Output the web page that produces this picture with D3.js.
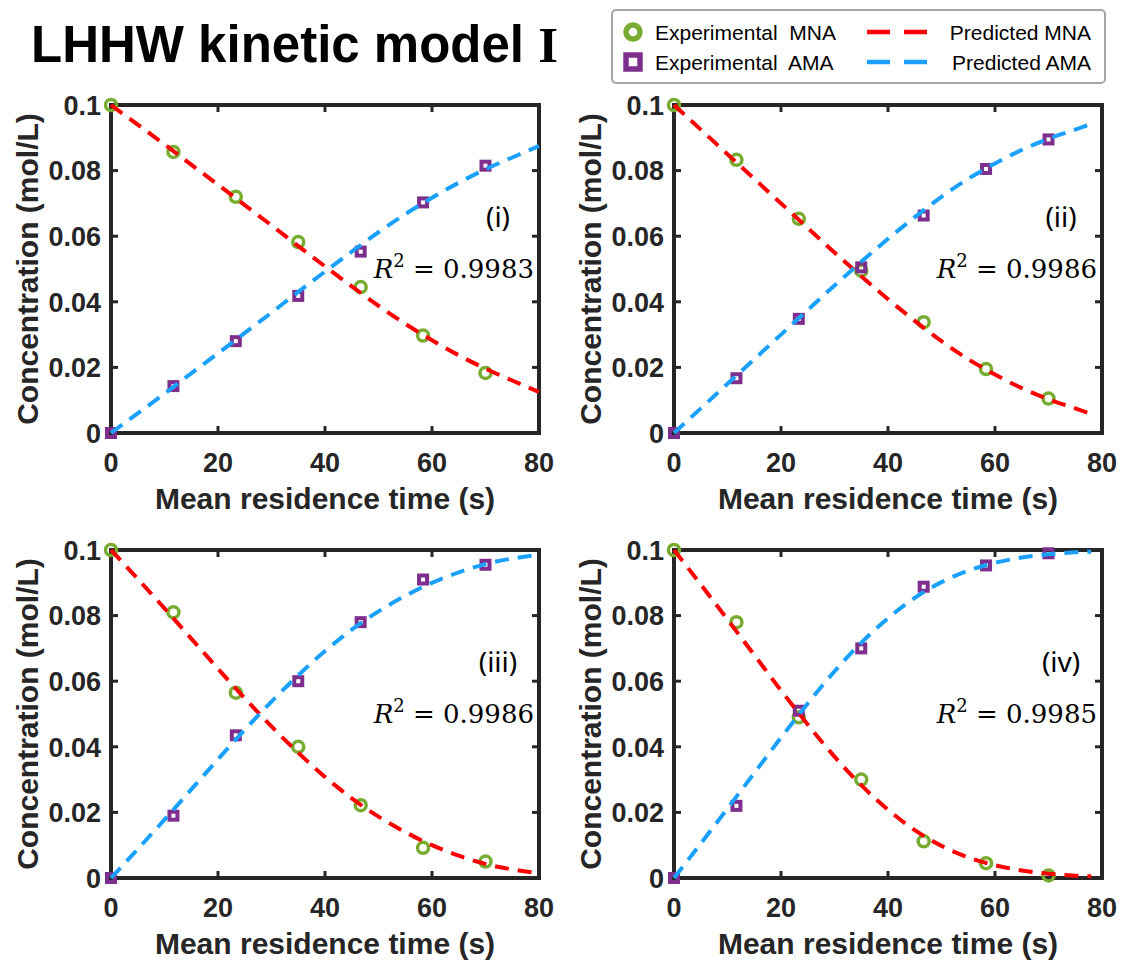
<!DOCTYPE html>
<html lang="en">
<head>
<meta charset="utf-8">
<title>LHHW kinetic model I</title>
<script src="https://d3js.org/d3.v7.min.js"></script>
<style>
    html, body { margin: 0; padding: 0; background: #fff; }
    svg { display: block; }
    .tick-label { font-family: "Liberation Sans", Arial, sans-serif; font-weight: bold; font-size: 27px; fill: #262626; }
    .axis-title { font-family: "Liberation Sans", Arial, sans-serif; font-weight: bold; font-size: 30px; fill: #262626; }
</style>
</head>
<body>
<div id="chart"></div>
<script>
// experimental sampling times (s)
var expTime = [0, 11.67, 23.33, 35, 46.67, 58.33, 70];

// experimental concentrations (mol/L), one row per panel
var mnaExp = [
    [0.1, 0.0857, 0.0720, 0.0582, 0.0445, 0.0297, 0.0183],
    [0.1, 0.0833, 0.0653, 0.0495, 0.0338, 0.0195, 0.0105],
    [0.1, 0.0810, 0.0565, 0.0400, 0.0222, 0.0092, 0.0050],
    [0.1, 0.0780, 0.0490, 0.0300, 0.0112, 0.0045, 0.0008]
];
var amaExp = [
    [0, 0.0143, 0.0280, 0.0418, 0.0553, 0.0703, 0.0815],
    [0, 0.0167, 0.0348, 0.0505, 0.0663, 0.0805, 0.0895],
    [0, 0.0190, 0.0435, 0.0600, 0.0780, 0.0910, 0.0955],
    [0, 0.0220, 0.0510, 0.0700, 0.0888, 0.0953, 0.0990]
];

// model curve times: panels i & iii run to 80 s, ii & iv stop at 78 s
var predTimeFull = [0, 5, 10, 15, 20, 25, 30, 35, 40, 45, 50, 55, 60, 65, 70, 75, 80];
var predTimeShort = [0, 5, 10, 15, 20, 25, 30, 35, 40, 45, 50, 55, 60, 65, 70, 75, 78];

var mnaPred = [
    [0.1, 0.0940, 0.0880, 0.0818, 0.0757, 0.0695, 0.0633, 0.0570, 0.0508, 0.0447, 0.0388, 0.0333, 0.0283, 0.0237, 0.0196, 0.0160, 0.0125],
    [0.1, 0.0925, 0.0850, 0.0775, 0.0700, 0.0625, 0.0550, 0.0478, 0.0408, 0.0342, 0.0280, 0.0225, 0.0178, 0.0137, 0.0103, 0.0075, 0.0058],
    [0.1, 0.0912, 0.0822, 0.0730, 0.0638, 0.0548, 0.0462, 0.0382, 0.0308, 0.0243, 0.0187, 0.0140, 0.0100, 0.0068, 0.0043, 0.0026, 0.0015],
    [0.1, 0.0895, 0.0788, 0.0680, 0.0572, 0.0468, 0.0370, 0.0283, 0.0208, 0.0146, 0.0098, 0.0063, 0.0039, 0.0023, 0.0013, 0.0007, 0.0005]
];
var amaPred = [
    [0, 0.0060, 0.0120, 0.0182, 0.0243, 0.0305, 0.0367, 0.0430, 0.0492, 0.0553, 0.0612, 0.0667, 0.0717, 0.0763, 0.0804, 0.0840, 0.0875],
    [0, 0.0075, 0.0150, 0.0225, 0.0300, 0.0375, 0.0450, 0.0522, 0.0592, 0.0658, 0.0720, 0.0775, 0.0822, 0.0863, 0.0897, 0.0925, 0.0942],
    [0, 0.0088, 0.0178, 0.0270, 0.0362, 0.0452, 0.0538, 0.0618, 0.0692, 0.0757, 0.0813, 0.0860, 0.0900, 0.0932, 0.0957, 0.0974, 0.0985],
    [0, 0.0105, 0.0212, 0.0320, 0.0428, 0.0532, 0.0630, 0.0717, 0.0792, 0.0854, 0.0902, 0.0937, 0.0961, 0.0977, 0.0987, 0.0993, 0.0995]
];

var panelNames = ["(i)", "(ii)", "(iii)", "(iv)"];
var r2Values = ["0.9983", "0.9986", "0.9986", "0.9985"];

var xTicks = [0, 20, 40, 60, 80];
var yTicks = [0, 0.02, 0.04, 0.06, 0.08, 0.1];
var yTickLabels = ["0", "0.02", "0.04", "0.06", "0.08", "0.1"];

var legendMarkers = ["Experimental  MNA", "Experimental  AMA"];
var legendLines = ["Predicted MNA", "Predicted AMA"];

// colours (MATLAB-ish)
var colGreen = "#77AC30", colPurple = "#7E2F8E", colRed = "#FF0000", colBlue = "#1AA0FF";
var frameCol = "#262626";

var width = 1121, height = 961;
var panelW = 428, panelH = 328;
var origins = [[111, 105], [674, 105], [111, 550], [674, 550]];

var svg = d3.select("#chart").append("svg")
    .attr("width", width)
    .attr("height", height);

// title
var title = svg.append("text")
    .attr("x", 31)
    .attr("y", 62)
    .style("font-family", "'Liberation Sans', Arial, sans-serif")
    .style("font-weight", "bold")
    .style("font-size", "51px")
    .attr("fill", "#000");
title.append("tspan").text("LHHW kinetic model ");
title.append("tspan")
    .style("font-family", "'Liberation Serif', 'Times New Roman', serif")
    .text("I");

var x = d3.scaleLinear().domain([0, 80]).range([0, panelW]);
var y = d3.scaleLinear().domain([0, 0.1]).range([panelH, 0]);

var line = d3.line()
    .x(function(d) { return x(d[0]); })
    .y(function(d) { return y(d[1]); })
    .curve(d3.curveMonotoneX);

origins.forEach(function(o, p) {
    var g = svg.append("g").attr("transform", "translate(" + o[0] + "," + o[1] + ")");
    var tPred = (p == 1 || p == 3) ? predTimeShort : predTimeFull;

    // inward ticks on all four sides (box on)
    var tickLen = 7;
    var ticks = g.append("g").attr("stroke", frameCol).attr("stroke-width", 3);
    xTicks.slice(1, -1).forEach(function(t) {
        ticks.append("line").attr("x1", x(t)).attr("x2", x(t)).attr("y1", panelH).attr("y2", panelH - tickLen);
        ticks.append("line").attr("x1", x(t)).attr("x2", x(t)).attr("y1", 0).attr("y2", tickLen);
    });
    yTicks.slice(1, -1).forEach(function(t) {
        ticks.append("line").attr("y1", y(t)).attr("y2", y(t)).attr("x1", 0).attr("x2", tickLen);
        ticks.append("line").attr("y1", y(t)).attr("y2", y(t)).attr("x1", panelW).attr("x2", panelW - tickLen);
    });

    // frame
    g.append("rect")
        .attr("x", 0).attr("y", 0)
        .attr("width", panelW).attr("height", panelH)
        .attr("fill", "none")
        .attr("stroke", frameCol)
        .attr("stroke-width", 4);

    // tick labels
    g.selectAll(".xt").data(xTicks).enter().append("text")
        .attr("class", "tick-label")
        .attr("x", function(d) { return x(d); })
        .attr("y", panelH + 39)
        .attr("text-anchor", "middle")
        .text(function(d) { return d; });
    g.selectAll(".yt").data(yTicks).enter().append("text")
        .attr("class", "tick-label")
        .attr("x", -10)
        .attr("y", function(d) { return y(d); })
        .attr("dy", "0.36em")
        .attr("text-anchor", "end")
        .text(function(d, i) { return yTickLabels[i]; });

    // axis titles
    g.append("text")
        .attr("class", "axis-title")
        .attr("x", panelW / 2)
        .attr("y", panelH + 76)
        .attr("text-anchor", "middle")
        .text("Mean residence time (s)");
    g.append("text")
        .attr("class", "axis-title")
        .attr("transform", "translate(" + (-73) + "," + (panelH / 2) + ") rotate(-90)")
        .attr("text-anchor", "middle")
        .text("Concentration (mol/L)");

    // experimental points
    g.selectAll(".mna").data(expTime.map(function(t, i) { return [t, mnaExp[p][i]]; }))
        .enter().append("circle")
        .attr("cx", function(d) { return x(d[0]); })
        .attr("cy", function(d) { return y(d[1]); })
        .attr("r", 5.5)
        .attr("fill", "none")
        .attr("stroke", colGreen)
        .attr("stroke-width", 3.5);
    var sq = 8;
    g.selectAll(".ama").data(expTime.map(function(t, i) { return [t, amaExp[p][i]]; }))
        .enter().append("rect")
        .attr("x", function(d) { return x(d[0]) - sq / 2; })
        .attr("y", function(d) { return y(d[1]) - sq / 2; })
        .attr("width", sq).attr("height", sq)
        .attr("fill", "none")
        .attr("stroke", colPurple)
        .attr("stroke-width", 4);

    // predicted curves
    g.append("path")
        .datum(tPred.map(function(t, i) { return [t, mnaPred[p][i]]; }))
        .attr("d", line)
        .attr("fill", "none")
        .attr("stroke", colRed)
        .attr("stroke-width", 4)
        .attr("stroke-dasharray", "14,9");
    g.append("path")
        .datum(tPred.map(function(t, i) { return [t, amaPred[p][i]]; }))
        .attr("d", line)
        .attr("fill", "none")
        .attr("stroke", colBlue)
        .attr("stroke-width", 4)
        .attr("stroke-dasharray", "14,9");

    // panel label and R^2
    g.append("text")
        .attr("x", 387).attr("y", 122)
        .attr("text-anchor", "middle")
        .style("font-family", "'Noto Sans', 'Open Sans', sans-serif")
        .style("font-size", "28px")
        .attr("fill", "#000")
        .text(panelNames[p]);
    var r2 = g.append("text")
        .attr("x", 423).attr("y", 173)
        .attr("text-anchor", "end")
        .style("font-family", "'DejaVu Serif', serif")
        .style("font-size", "26px")
        .attr("fill", "#000");
    r2.append("tspan").style("font-style", "italic").text("R");
    r2.append("tspan").attr("dy", -11).style("font-size", "18px").text("2");
    r2.append("tspan").attr("dy", 11).text(" = " + r2Values[p]);
});

// legend
var lg = svg.append("g");
lg.append("rect")
    .attr("x", 612).attr("y", 10)
    .attr("width", 493).attr("height", 73)
    .attr("rx", 4)
    .attr("fill", "#fff")
    .attr("stroke", "#a6a6a6")
    .attr("stroke-width", 2);
var rowsY = [32, 62];
lg.append("circle")
    .attr("cx", 633).attr("cy", rowsY[0]).attr("r", 7)
    .attr("fill", "#fff").attr("stroke", colGreen).attr("stroke-width", 5.5);
lg.append("rect")
    .attr("x", 626).attr("y", rowsY[1] - 7).attr("width", 14).attr("height", 14)
    .attr("fill", "#fff").attr("stroke", colPurple).attr("stroke-width", 5.5);
[colRed, colBlue].forEach(function(c, i) {
    lg.append("line")
        .attr("x1", 867).attr("x2", 927)
        .attr("y1", rowsY[i]).attr("y2", rowsY[i])
        .attr("stroke", c).attr("stroke-width", 4.5)
        .attr("stroke-dasharray", "23,14");
});
legendMarkers.forEach(function(t, i) {
    lg.append("text")
        .attr("x", 655).attr("y", rowsY[i])
        .attr("dy", "0.36em")
        .style("font-family", "'Liberation Sans', Arial, sans-serif")
        .style("font-size", "21px")
        .style("white-space", "pre")
        .attr("xml:space", "preserve")
        .text(t);
});
legendLines.forEach(function(t, i) {
    lg.append("text")
        .attr("x", 1091).attr("y", rowsY[i])
        .attr("dy", "0.36em")
        .attr("text-anchor", "end")
        .style("font-family", "'Liberation Sans', Arial, sans-serif")
        .style("font-size", "21px")
        .text(t);
});
</script>
</body>
</html>
